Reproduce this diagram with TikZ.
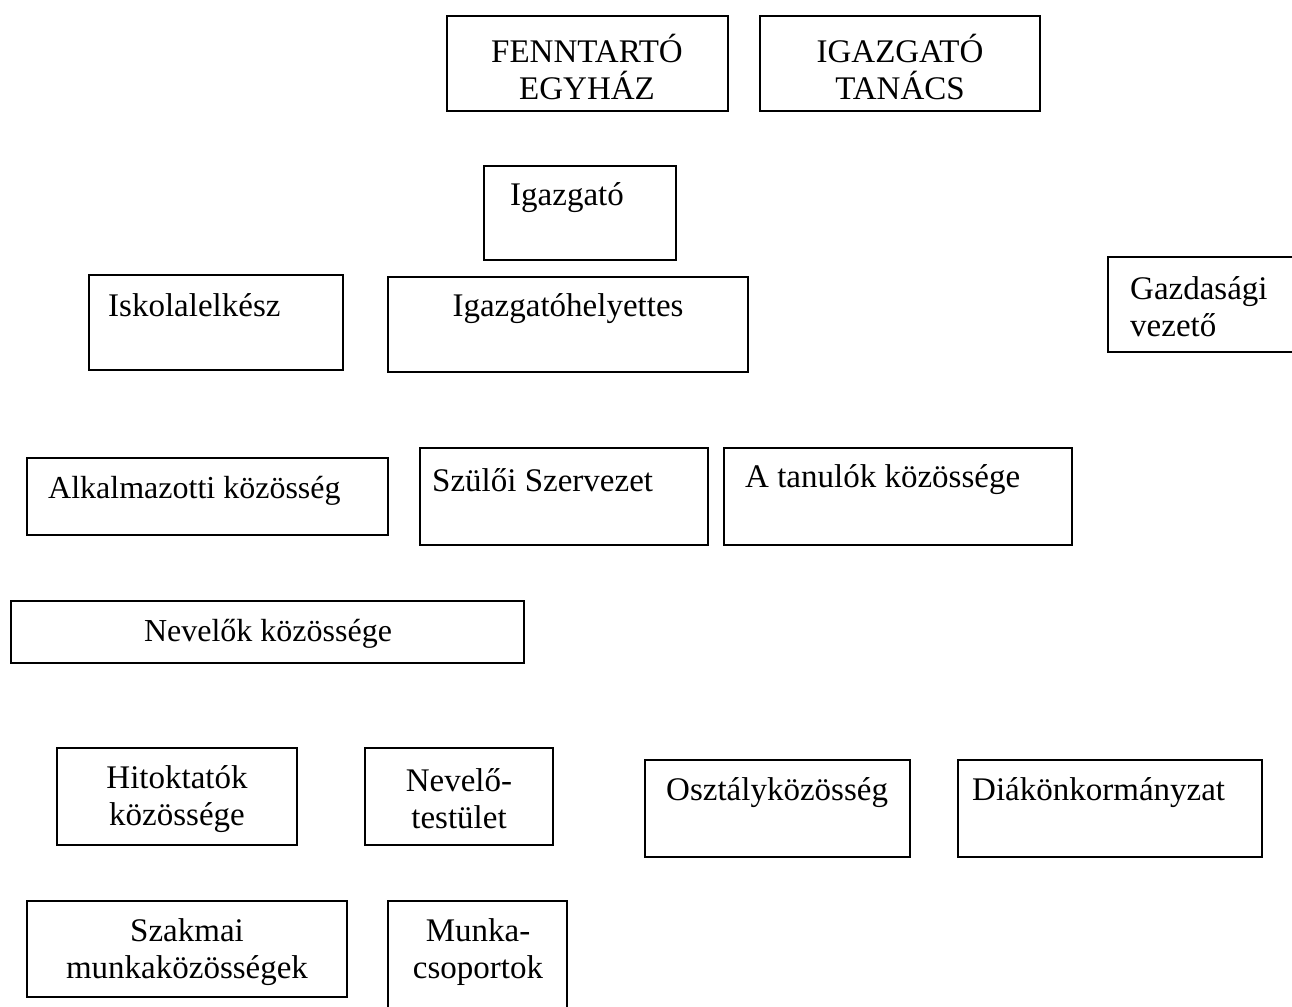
\documentclass[tikz,border=0pt]{standalone}
\usepackage{fontspec}
\setmainfont{Liberation Serif}
\begin{document}
\begin{tikzpicture}[x=1pt,y=-1pt,
  box/.style={draw, line width=1.4pt},
  lbl/.style={inner sep=0pt, font=\fontsize{33}{37}\selectfont, align=center},
  lbll/.style={inner sep=0pt, font=\fontsize{33}{37}\selectfont, align=left, anchor=west}]
\useasboundingbox (0,0) rectangle (1292,1006);
% boxes
\draw[box] (447,16) rectangle (728,111) coordinate (fennB);
\draw[box] (760,16) rectangle (1040,111) coordinate (igtB);
\draw[box] (484,166) rectangle (676,260) coordinate (igB);
\draw[box] (89,275) rectangle (343,370) coordinate (iskB);
\draw[box] (388,277) rectangle (748,372) coordinate (ighB);
\draw[box] (1108,257) rectangle (1300,352) coordinate (gazB);
\draw[box] (27,458) rectangle (388,535) coordinate (alkB);
\draw[box] (420,448) rectangle (708,545) coordinate (szuB);
\draw[box] (724,448) rectangle (1072,545) coordinate (tanB);
\draw[box] (11,601) rectangle (524,663) coordinate (nevB);
\draw[box] (57,748) rectangle (297,845) coordinate (hitB);
\draw[box] (365,748) rectangle (553,845) coordinate (ntB);
\draw[box] (645,760) rectangle (910,857) coordinate (oszB);
\draw[box] (958,760) rectangle (1262,857) coordinate (diakB);
\draw[box] (27,901) rectangle (347,997) coordinate (szakB);
\draw[box] (388,901) rectangle (567,1015) coordinate (munB);
% texts
\node[lbl] (fenn) at (587,67) {FENNTARTÓ\\EGYHÁZ};
\node[lbl] (igt) at (900,67) {IGAZGATÓ\\TANÁCS};
\node[lbl] (ig) at (567,198) {Igazgató};
\node[lbll] (isk) at (108,305) {Iskolalelkész};
\node[lbl] (igh) at (568,309) {Igazgatóhelyettes};
\node[lbll] (gaz) at (1130,307) {Gazdasági\\vezető};
\node[lbll, font=\fontsize{32}{37}\selectfont] (alk) at (48,491) {Alkalmazotti közösség};
\node[lbll] (szu) at (432,480) {Szülői Szervezet};
\node[lbll] (tan) at (745,480) {A tanulók közössége};
\node[lbl, font=\fontsize{32}{37}\selectfont] (nev) at (268,634) {Nevelők közössége};
\node[lbl] (hit) at (177,799) {Hitoktatók\\közössége};
\node[lbl] (nt) at (459,799) {Nevelő-\\testület};
\node[lbll] (osz) at (666,793) {Osztályközösség};
\node[lbll] (diak) at (972,793) {Diákönkormányzat};
\node[lbl] (szak) at (187,952) {Szakmai\\munkaközösségek};
\node[lbl] (mun) at (478,952) {Munka-\\csoportok};
\end{tikzpicture}
\end{document}
